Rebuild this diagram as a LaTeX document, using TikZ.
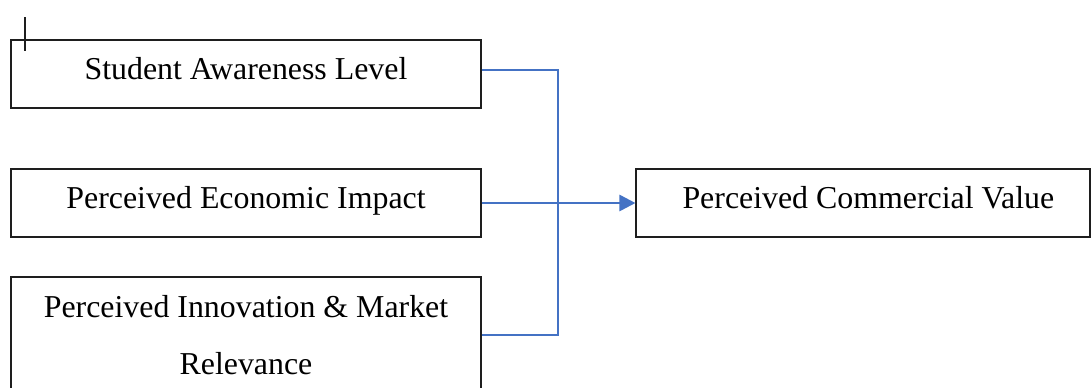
\documentclass[tikz,border=0pt]{standalone}
\usepackage{fontspec}
\setmainfont{Liberation Serif}
\usetikzlibrary{arrows.meta}
\definecolor{linkblue}{RGB}{68,114,196}
\definecolor{boxline}{RGB}{30,30,30}
\tikzset{
  box/.style={draw=boxline, line width=0.8pt, minimum width=352.5pt, minimum height=51pt,
    inner sep=0pt, align=center, font=\fontsize{23.9}{42.75}\selectfont},
  onebox/.style={box, text height=16.5pt, text depth=8.5pt},
  link/.style={draw=linkblue, line width=2pt},
}
\begin{document}
\begin{tikzpicture}[x=0.75pt, y=-0.75pt]
\clip (0,0) rectangle (1091,387);
\fill[white] (0,0) rectangle (1091,387);
\node[onebox] (b1) at (246,74) {Student Awareness Level};
\node[onebox] (b2) at (246,203) {Perceived Economic Impact};
\node[box, minimum height=87pt] (b3) at (246,335) {Perceived Innovation \& Market\\Relevance};
\node[onebox, minimum width=340.5pt] (out) at (863,203) {\hspace*{8pt}Perceived Commercial Value};
\coordinate (j) at (558,70);
\coordinate (c1) at (25,17);
\coordinate (c2) at (25,51);
\draw[boxline, line width=0.9pt] (c1) -- (c2);
\draw[link] (b1.east |- j) -- (j) -- (j |- b3.east) -- (b3.east);
\draw[link, -{Triangle[length=12pt, width=12pt]}] (b2.east) -- (out.west);
\end{tikzpicture}
\end{document}
